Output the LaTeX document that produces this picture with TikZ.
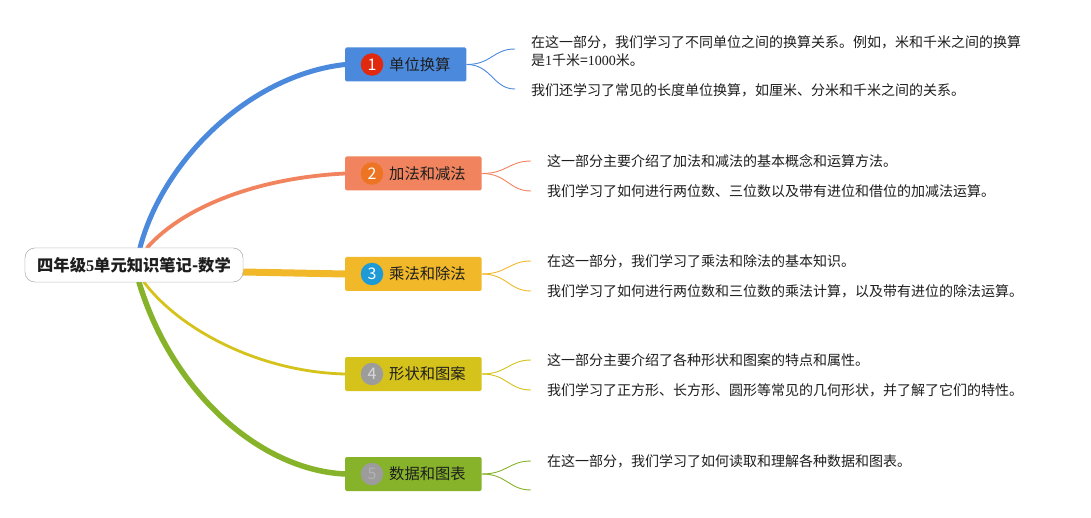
\documentclass[tikz,border=0pt]{standalone}
\usepackage{fontspec}
\setmainfont{Noto Sans CJK SC}
\newfontfamily\latinserif{Liberation Serif}
\usetikzlibrary{calc}
\definecolor{cblue}{HTML}{4A89DC}
\definecolor{corange}{HTML}{F1845E}
\definecolor{cyellow}{HTML}{F1B82A}
\definecolor{colive}{HTML}{D5C31B}
\definecolor{cgreen}{HTML}{86B32A}
\definecolor{bred}{HTML}{E0290F}
\definecolor{borange}{HTML}{EC7422}
\definecolor{bblue}{HTML}{1E9AD6}
\definecolor{bgray}{HTML}{9C9C9C}
\definecolor{ink}{HTML}{1E1E1E}
\tikzset{
  topic/.style={anchor=west, minimum height=34pt, inner xsep=16pt, inner ysep=0pt, rounded corners=1.5pt,
    font=\fontsize{15.3}{18}\selectfont, text=ink},
  badge/.style={circle, minimum size=22.5pt, inner sep=0pt, font=\fontsize{16}{16}\selectfont, text=white},
  leaf/.style={anchor=west, align=left, inner sep=0pt, font=\fontsize{14}{18}\selectfont, text=ink},
  rootbox/.style={draw=gray!65, fill=white, rounded corners=10pt, minimum width=218pt, minimum height=34pt,
    inner sep=0pt, font=\fontsize{16.3}{18}\selectfont\bfseries, text=ink},
  branch/.style={line cap=round},
  twig/.style={line width=0.9pt}
}
\begin{document}
\begin{tikzpicture}[x=1pt,y=-1pt]
\useasboundingbox[fill=white] (0,0) rectangle (1091,518);
% root (placed first to define anchors)
\node[rootbox] (root) at (134,265) {四年级{\latinserif 5}单元知识笔记-数学};
% topics
\node[topic, fill=cblue] (t1) at (345,64.5) {\hspace*{28pt}单位换算};
\node[topic, fill=corange] (t2) at (345,173.5) {\hspace*{28pt}加法和减法};
\node[topic, fill=cyellow] (t3) at (345,274) {\hspace*{28pt}乘法和除法};
\node[topic, fill=colive] (t4) at (345,374) {\hspace*{28pt}形状和图案};
\node[topic, fill=cgreen] (t5) at (345,474) {\hspace*{28pt}数据和图表};
% badges
\node[badge, fill=bred] (b1) at ($(t1.west)+(27,0)$) {1};
\node[badge, fill=borange] (b2) at ($(t2.west)+(27,0)$) {2};
\node[badge, fill=bblue] (b3) at ($(t3.west)+(27,0)$) {3};
\node[badge, fill=bgray, text=gray!30] (b4) at ($(t4.west)+(27,0)$) {4};
\node[badge, fill=bgray, text=gray!60] (b5) at ($(t5.west)+(27,0)$) {5};
% leaves
\node[leaf] (l11) at (531,51) {在这一部分，我们学习了不同单位之间的换算关系。例如，米和千米之间的换算\\是{\latinserif 1}千米={\latinserif 1000}米。};
\node[leaf] (l12) at (531,90) {我们还学习了常见的长度单位换算，如厘米、分米和千米之间的关系。};
\node[leaf] (l21) at (547,161) {这一部分主要介绍了加法和减法的基本概念和运算方法。};
\node[leaf] (l22) at (547,191) {我们学习了如何进行两位数、三位数以及带有进位和借位的加减法运算。};
\node[leaf] (l31) at (547,261) {在这一部分，我们学习了乘法和除法的基本知识。};
\node[leaf] (l32) at (547,291) {我们学习了如何进行两位数和三位数的乘法计算，以及带有进位的除法运算。};
\node[leaf] (l41) at (547,360) {这一部分主要介绍了各种形状和图案的特点和属性。};
\node[leaf] (l42) at (547,390) {我们学习了正方形、长方形、圆形等常见的几何形状，并了解了它们的特性。};
\node[leaf] (l51) at (547,461) {在这一部分，我们学习了如何读取和理解各种数据和图表。};
% twig end points
\coordinate (e11) at ($(l11.west)+(-16,-2)$);
\coordinate (e12) at ($(l12.west)+(-16,-1)$);
\coordinate (e21) at ($(l21.west)+(-16,0)$);
\coordinate (e22) at ($(l22.west)+(-16,0)$);
\coordinate (e31) at ($(l31.west)+(-16,0)$);
\coordinate (e32) at ($(l32.west)+(-16,0)$);
\coordinate (e41) at ($(l41.west)+(-16,0)$);
\coordinate (e42) at ($(l42.west)+(-16,0)$);
\coordinate (e51) at ($(l51.west)+(-16,0)$);
\coordinate (e52) at (531,490);
% root anchors
\coordinate (r1) at ($(root.north)+(6,0)$);
\coordinate (r2) at ($(root.north)+(13,0)$);
\coordinate (r3) at ($(root.east)+(0,7)$);
\coordinate (r4) at ($(root.south)+(10,0)$);
\coordinate (r5) at ($(root.south)+(5,0)$);
% main branches
\draw[branch, cblue, line width=5pt] (r1) .. controls (163,160) and (250,75) .. (t1.west);
\draw[branch, corange, line width=3.8pt] (r2) .. controls (182,208) and (255,178) .. (t2.west);
\draw[cyellow, line width=7pt] (r3) -- (t3.west);
\draw[branch, colive, line width=2.8pt] (r4) .. controls (180,330) and (260,372) .. (t4.west);
\draw[branch, cgreen, line width=5.5pt] (r5) .. controls (172,392) and (260,470) .. (t5.west);
% twigs
\draw[twig, cblue] (t1.east) .. controls +(25,0) and +(-22,0) .. (e11);
\draw[twig, cblue] (t1.east) .. controls +(25,0) and +(-22,0) .. (e12);
\draw[twig, corange] (t2.east) .. controls +(25,0) and +(-22,0) .. (e21);
\draw[twig, corange] (t2.east) .. controls +(25,0) and +(-22,0) .. (e22);
\draw[twig, cyellow] (t3.east) .. controls +(25,0) and +(-22,0) .. (e31);
\draw[twig, cyellow] (t3.east) .. controls +(25,0) and +(-22,0) .. (e32);
\draw[twig, colive] (t4.east) .. controls +(25,0) and +(-22,0) .. (e41);
\draw[twig, colive] (t4.east) .. controls +(25,0) and +(-22,0) .. (e42);
\draw[twig, cgreen] (t5.east) .. controls +(25,0) and +(-22,0) .. (e51);
\draw[twig, cgreen] (t5.east) .. controls +(25,0) and +(-22,0) .. (e52);
% root drawn again on top of the branch ends
\node[rootbox] at (root.center) {四年级{\latinserif 5}单元知识笔记-数学};
\end{tikzpicture}
\end{document}
